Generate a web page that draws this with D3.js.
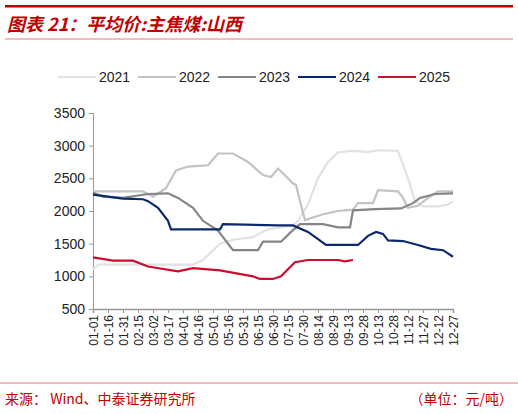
<!DOCTYPE html>
<html>
<head>
<meta charset="utf-8">
<script src="https://cdn.jsdelivr.net/npm/d3@7"></script>
<style>
  body { margin: 0; background: #fff; }
  text { font-family: Arial, "Liberation Sans", sans-serif; }
</style>
</head>
<body>
<div id="chart"></div>
<script>
// day-of-year -> price (元/吨)
const years = ['2021', '2022', '2023', '2024', '2025']
const colors = ['#e2e2e2', '#c3c3c3', '#858585', '#0c2a6b', '#c8102e']
const s2021 = [[0,1100],[5,1180],[100,1180],[110,1250],[127,1500],[140,1560],[160,1600],[175,1720],[200,1780],[205,1850],[215,2100],[225,2500],[235,2750],[245,2900],[260,2920],[275,2900],[285,2930],[305,2920],[315,2500],[322,2150],[330,2070],[345,2070],[355,2100],[360,2150]]
const s2022 = [[0,2300],[50,2300],[60,2220],[73,2350],[83,2620],[95,2680],[115,2700],[125,2880],[140,2880],[155,2750],[170,2550],[178,2520],[185,2650],[195,2500],[200,2420],[203,2400],[207,2150],[212,1860],[230,1950],[245,2000],[260,2020],[265,2120],[280,2120],[285,2320],[305,2300],[310,2200],[315,2050],[325,2080],[335,2200],[345,2300],[360,2300]]
const s2023 = [[0,2280],[10,2220],[30,2200],[55,2260],[75,2270],[85,2200],[100,2050],[110,1850],[125,1700],[135,1500],[140,1400],[165,1400],[170,1530],[188,1530],[198,1680],[207,1800],[230,1800],[245,1750],[257,1750],[260,2010],[282,2030],[308,2040],[320,2120],[327,2200],[342,2260],[360,2270]]
const s2024 = [[0,2250],[15,2220],[30,2190],[50,2180],[55,2150],[65,2050],[75,1850],[78,1720],[127,1720],[130,1800],[185,1780],[200,1780],[215,1680],[233,1480],[265,1480],[275,1620],[283,1680],[290,1650],[295,1550],[310,1540],[325,1480],[338,1420],[350,1400],[360,1300]]
const s2025 = [[0,1290],[20,1240],[40,1240],[55,1150],[85,1075],[100,1125],[127,1090],[160,1000],[167,960],[180,960],[188,1000],[202,1215],[215,1250],[245,1250],[252,1230],[260,1250]]
const series = [s2021, s2022, s2023, s2024, s2025]
const tickDays = d3.range(0, 361, 15)
const tickLabels = ['01-01','01-16','01-31','02-15','03-02','03-17','04-01','04-16','05-01','05-16','05-31','06-15','06-30','07-15','07-30','08-14','08-29','09-13','09-28','10-13','10-28','11-12','11-27','12-12','12-27']
const yTicks = [500, 1000, 1500, 2000, 2500, 3000, 3500]

const W = 518, H = 414
const svg = d3.select('#chart').append('svg').attr('width', W).attr('height', H)

// header
svg.append('rect').attr('x', 5).attr('y', 5).attr('width', 508).attr('height', 2.5).attr('fill', '#c00000')
svg.append('text').attr('x', 7).attr('y', 31).attr('fill', '#c00000')
  .style('font-size', '18px').style('font-style', 'italic').style('font-weight', 'bold')
  .style('font-family', '"Noto Sans CJK SC", sans-serif')
  .text('图表 21：平均价:主焦煤:山西')
svg.append('line').attr('x1', 5).attr('x2', 513).attr('y1', 39).attr('y2', 39).attr('stroke', '#d06060').attr('stroke-width', 0.8)

const x = d3.scaleLinear().domain([0, 360]).range([93, 453])
const y = d3.scaleLinear().domain([500, 3500]).range([309, 113])

// axes
const xAxis = svg.append('g').attr('transform', 'translate(0,309)')
  .call(d3.axisBottom(x).tickValues(tickDays).tickSize(4).tickFormat((d, i) => tickLabels[i]))
xAxis.select('.domain').attr('stroke', '#999').attr('stroke-width', 1.5)
xAxis.selectAll('.tick line').attr('stroke', '#999')
xAxis.selectAll('text').attr('transform', 'rotate(-90)').attr('x', -6).attr('y', -4.5)
  .style('text-anchor', 'end').attr('fill', '#222').style('font-size', '12px')

const yAxis = svg.append('g').attr('transform', 'translate(93,0)')
  .call(d3.axisLeft(y).tickValues(yTicks).tickSize(4).tickFormat(d3.format('d')))
yAxis.select('.domain').attr('stroke', '#999').attr('stroke-width', 1)
yAxis.selectAll('.tick line').attr('stroke', '#999')
yAxis.selectAll('text').attr('fill', '#222').style('font-size', '14px').attr('x', -8)

// lines
const line = d3.line().x(d => x(d[0])).y(d => y(d[1]))
series.forEach((s, i) => {
  svg.append('path').datum(s).attr('d', line).attr('fill', 'none')
    .attr('stroke', colors[i]).attr('stroke-width', 2.2)
})

// legend
const lx = [58, 138, 218, 298, 378]
years.forEach((yr, i) => {
  svg.append('line').attr('x1', lx[i]).attr('x2', lx[i] + 38).attr('y1', 77).attr('y2', 77)
    .attr('stroke', colors[i]).attr('stroke-width', 2.2)
  svg.append('text').attr('x', lx[i] + 41).attr('y', 82).attr('fill', '#222').style('font-size', '14px').text(yr)
})

// footer
svg.append('line').attr('x1', 0).attr('x2', 518).attr('y1', 383).attr('y2', 383).attr('stroke', '#d06060').attr('stroke-width', 0.8)
svg.append('text').attr('x', 5).attr('y', 404).attr('fill', '#c00000').style('font-size', '14px')
  .style('font-family', '"Noto Sans CJK SC", sans-serif').text('来源：  Wind、中泰证券研究所')
svg.append('text').attr('x', 513).attr('y', 404).attr('fill', '#c00000').style('font-size', '14px')
  .style('text-anchor', 'end').style('font-family', '"Noto Sans CJK SC", sans-serif').text('（单位：元/吨）')
</script>
</body>
</html>
